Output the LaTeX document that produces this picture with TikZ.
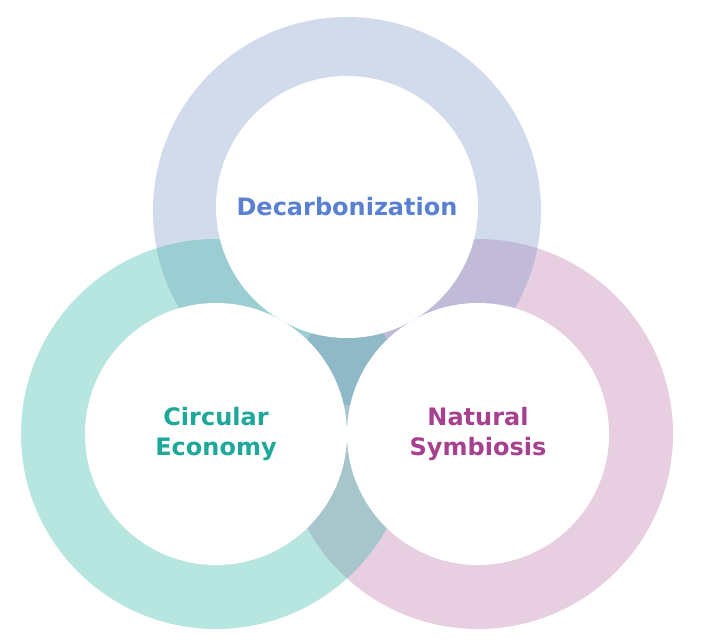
\documentclass[tikz,border=0pt]{standalone}
\usepackage{fontspec}
\setsansfont{DejaVu Sans}

\definecolor{decofill}{HTML}{809BC9}
\definecolor{circfill}{HTML}{38B8A8}
\definecolor{natfill}{HTML}{BD78AD}
\definecolor{decotext}{HTML}{5A80D2}
\definecolor{circtext}{HTML}{1EA89A}
\definecolor{nattext}{HTML}{A6418F}

\begin{document}
\begin{tikzpicture}[
    x=1pt, y=-1pt,
    every node/.style={font=\sffamily\bfseries\fontsize{24}{30}\selectfont},
    ring/.style={circle, inner sep=0pt, minimum size=390pt, fill opacity=0.36},
    disc/.style={circle, fill=white, inner sep=0pt, minimum size=262pt, align=center},
]
\useasboundingbox (0,0) rectangle (704,642);

% ===== Coloured rings (see-through: right, then top, then left) =====
\node[ring, fill=natfill] (natring) at (478,434) {};
\node[ring, fill=decofill, minimum size=388pt] (decoring) at (347,211) {};
\node[ring, fill=circfill] (circring) at (216,434) {};

% ===== White inner discs with labels =====
\node[disc, text=decotext] (deco) at (347,207) {Decarbonization};
\node[disc, text=circtext] (circ) at (circring.center) {Circular\\Economy};
\node[disc, text=nattext] (nat) at (natring.center) {Natural\\Symbiosis};

\end{tikzpicture}
\end{document}
